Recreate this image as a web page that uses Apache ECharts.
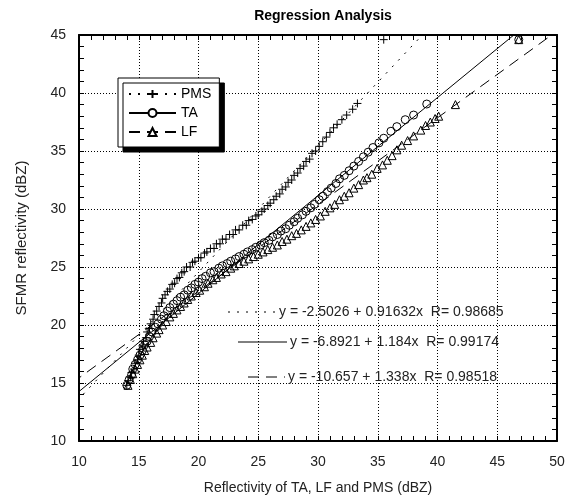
<!DOCTYPE html>
<html><head><meta charset="utf-8">
<script src="https://cdn.jsdelivr.net/npm/echarts@6/dist/echarts.min.js"></script>
<style>html,body{margin:0;padding:0;background:#fff}#c{width:570px;height:498px}</style>
</head><body><div id="c"></div><script>
// ---- data (x = reflectivity of TA/LF/PMS, y = SFMR reflectivity), dBZ ----
const pmsX = [14.0,14.1,14.3,14.4,14.6,14.7,14.9,15.0,15.1,15.3,15.4,15.6,15.7,15.9,16.0,16.2,16.3,16.5,16.7,16.9,17.0,17.2,17.4,17.6,17.8,18.0,18.2,18.4,18.6,18.8,19.0,19.3,19.5,19.7,20.0,20.2,20.5,20.7,21.0,21.3,21.5,21.8,22.0,22.3,22.6,22.9,23.1,23.4,23.7,24.0,24.2,24.5,24.8,25.0,25.3,25.5,25.8,26.0,26.3,26.5,26.8,27.0,27.3,27.5,27.8,28.0,28.3,28.5,28.8,29.0,29.3,29.5,29.8,30.1,30.4,30.7,31.0,31.3,31.6,32.0,32.4,32.9,33.3,35.5];
const pmsY = [14.8,15.2,15.5,15.9,16.2,16.7,17.0,17.4,17.9,18.2,18.6,18.9,19.4,19.7,20.1,20.5,20.9,21.2,21.6,21.9,22.3,22.6,22.9,23.1,23.5,23.6,24.0,24.1,24.5,24.6,25.0,25.0,25.4,25.5,25.8,25.8,26.2,26.3,26.6,26.6,27.0,27.0,27.4,27.4,27.8,27.8,28.2,28.2,28.6,28.6,29.0,29.1,29.4,29.5,29.8,30.0,30.3,30.5,30.8,31.1,31.3,31.7,31.9,32.3,32.5,32.9,33.1,33.5,33.7,34.1,34.3,34.8,35.0,35.4,35.8,36.2,36.6,37.0,37.3,37.7,38.1,38.6,39.1,44.6];
const taX = [14.0,14.2,14.4,14.5,14.7,14.9,15.1,15.3,15.5,15.7,15.9,16.1,16.4,16.6,16.9,17.1,17.4,17.6,17.9,18.2,18.5,18.8,19.1,19.4,19.7,20.0,20.3,20.6,21.0,21.3,21.7,22.0,22.4,22.7,23.1,23.4,23.8,24.1,24.5,24.8,25.2,25.5,25.9,26.2,26.6,26.9,27.3,27.6,28.0,28.3,28.7,29.0,29.4,29.7,30.1,30.4,30.8,31.1,31.5,31.8,32.2,32.6,33.0,33.4,33.8,34.2,34.6,35.1,35.5,36.1,36.6,37.3,38.0,39.1,46.8];
const taY = [14.8,15.3,15.7,16.2,16.6,17.0,17.4,17.8,18.3,18.6,19.0,19.4,19.8,20.1,20.5,20.8,21.2,21.5,21.8,22.1,22.4,22.6,23.0,23.2,23.5,23.7,24.0,24.2,24.5,24.6,24.9,25.1,25.3,25.5,25.7,25.9,26.1,26.3,26.5,26.7,26.9,27.1,27.3,27.6,27.8,28.1,28.3,28.6,28.9,29.2,29.5,29.8,30.1,30.4,30.8,31.1,31.5,31.8,32.2,32.6,32.9,33.3,33.7,34.1,34.5,34.9,35.3,35.7,36.1,36.7,37.1,37.7,38.1,39.05,44.6];
const lfX = [14.1,14.3,14.5,14.7,14.9,15.1,15.3,15.5,15.7,16.0,16.2,16.5,16.7,17.0,17.3,17.6,17.9,18.2,18.5,18.8,19.1,19.4,19.8,20.1,20.5,20.8,21.2,21.5,21.9,22.3,22.7,23.0,23.4,23.8,24.2,24.6,25.0,25.4,25.8,26.2,26.6,27.0,27.4,27.8,28.2,28.6,29.0,29.4,29.8,30.2,30.6,31.0,31.4,31.8,32.2,32.6,33.0,33.4,33.8,34.1,34.5,34.95,35.4,35.8,36.2,36.6,37.0,37.5,38.0,38.6,39.0,39.4,39.8,40.1,41.5,46.8];
const lfY = [14.8,15.3,15.8,16.2,16.6,17.0,17.4,17.8,18.1,18.5,18.9,19.3,19.6,20.0,20.3,20.7,21.0,21.3,21.6,21.9,22.2,22.5,22.8,23.0,23.3,23.6,23.9,24.1,24.4,24.6,24.9,25.1,25.3,25.5,25.7,25.9,26.1,26.3,26.5,26.7,26.9,27.2,27.4,27.7,27.9,28.2,28.5,28.8,29.1,29.4,29.8,30.1,30.4,30.8,31.1,31.4,31.8,32.1,32.5,32.7,33.0,33.5,33.8,34.2,34.6,35.1,35.5,35.9,36.3,36.8,37.2,37.5,37.8,38.0,39.0,44.6];

// regression of reflectivity on SFMR: X = a + b*SFMR
const regNames = ['PMS', 'TA', 'LF'];
const regIntercept = [-2.5026, -6.8921, -10.657];
const regSlope = [0.91632, 1.184, 1.338];
const regR = [0.98685, 0.99174, 0.98518];
const sfmrSpan = [5, 50];

const xTickLabels = [10, 15, 20, 25, 30, 35, 40, 45, 50];
const yTickLabels = [10, 15, 20, 25, 30, 35, 40, 45];

// ---- chart ----
const FONT = 'Liberation Sans, Arial, sans-serif';
const plusPath = 'path://M5,0L5,10M0,5L10,5';
const symbols = [plusPath, 'circle', 'triangle'];
const lineTypes = [[2, 7], 'solid', [11, 7]];
const xs = [pmsX, taX, lfX], ys = [pmsY, taY, lfY];

const chart = echarts.init(document.getElementById('c'), null, {renderer: 'canvas'});

const baseAxis = {
  type: 'value',
  axisLine: {show: true, onZero: false, lineStyle: {color: '#000', width: 2}},
  axisTick: {show: true, inside: true, length: 5, lineStyle: {color: '#000', width: 1}},
  minorTick: {show: true, splitNumber: 5, length: 5, lineStyle: {color: '#000', width: 1}},
  axisLabel: {show: false},
  splitLine: {show: false}
};
function mkX(pos, main) {
  return Object.assign({}, baseAxis, {
    min: xTickLabels[0], max: xTickLabels[xTickLabels.length - 1], interval: 5, position: pos,
    axisLabel: main ? {show: true, color: '#222', fontFamily: FONT, fontSize: 14, margin: 14} : {show: false},
    splitLine: main ? {show: true, lineStyle: {color: '#000', type: [1, 2], width: 1}} : {show: false},
    name: main ? 'Reflectivity of TA, LF and PMS (dBZ)' : '',
    nameLocation: 'middle', nameGap: 40,
    nameTextStyle: {fontFamily: FONT, fontSize: 14, color: '#222'}
  });
}
function mkY(pos, main) {
  return Object.assign({}, baseAxis, {
    min: yTickLabels[0], max: yTickLabels[yTickLabels.length - 1], interval: 5, position: pos,
    axisLabel: main ? {show: true, color: '#222', fontFamily: FONT, fontSize: 14, margin: 13} : {show: false},
    splitLine: main ? {show: true, lineStyle: {color: '#000', type: [1, 2], width: 1}} : {show: false},
    name: main ? 'SFMR reflectivity (dBZ)' : '',
    nameLocation: 'middle', nameGap: 50, nameRotate: 90,
    nameTextStyle: {fontFamily: FONT, fontSize: 15, color: '#222'}
  });
}

const series = [];
regNames.forEach((n, i) => {
  series.push({
    name: n, type: 'line', xAxisIndex: 0, yAxisIndex: 0,
    data: sfmrSpan.map(s => [regIntercept[i] + regSlope[i] * s, s]),
    showSymbol: false, symbol: symbols[i], symbolSize: 8,
    lineStyle: {color: '#000', width: 1, type: lineTypes[i]},
    itemStyle: {color: '#fff', borderColor: '#000', borderWidth: 1},
    clip: true, silent: true, z: 2, animation: false
  });
});
regNames.forEach((n, i) => {
  series.push({
    name: n, type: 'scatter', xAxisIndex: 0, yAxisIndex: 0,
    data: xs[i].map((x, k) => [x, ys[i][k]]),
    symbol: symbols[i], symbolSize: 8,
    itemStyle: {color: 'rgba(0,0,0,0)', borderColor: '#000', borderWidth: 1, opacity: 1},
    silent: true, z: 3, animation: false
  });
});

// annotation rows (equations)
const eqTop = [312, 342, 377];
const eqTextX = [279, 290, 288];
const eqLine = [[228, 276], [238, 287], [248, 285]];
const graphics = [];
regNames.forEach((n, i) => {
  const a = regIntercept[i], b = regSlope[i];
  graphics.push({
    type: 'line', shape: {x1: eqLine[i][0], y1: eqTop[i], x2: eqLine[i][1], y2: eqTop[i]},
    style: {stroke: '#000', lineWidth: 1, lineDash: lineTypes[i] === 'solid' ? null : lineTypes[i]}, z: 10
  });
  graphics.push({
    type: 'text', x: eqTextX[i], y: eqTop[i],
    style: {text: 'y = ' + a + ' + ' + b + 'x  R= ' + regR[i], font: '14px ' + FONT, fill: '#222', verticalAlign: 'middle', textAlign: 'left'}, z: 10
  });
});

chart.setOption({
  animation: false,
  backgroundColor: '#fff',
  title: {text: 'Regression Analysis', left: 318, textAlign: 'center', top: 4, textStyle: {fontFamily: FONT, fontSize: 14, fontWeight: 'bold', color: '#000'}},
  grid: {left: 79, right: 13, top: 35, bottom: 57, containLabel: false, outerBoundsMode: 'none'},
  xAxis: [mkX('bottom', true), mkX('top', false)],
  yAxis: [mkY('left', true), mkY('right', false)],
  legend: {
    data: regNames, orient: 'vertical', left: 118, top: 78,
    itemWidth: 47, itemHeight: 10, itemGap: 5,
    padding: [9, 8, 8, 10],
    backgroundColor: '#fff', borderColor: '#000', borderWidth: 1,
    shadowColor: '#000', shadowOffsetX: 5, shadowOffsetY: 5, shadowBlur: 0,
    textStyle: {fontFamily: FONT, fontSize: 14, color: '#000'},
    selectedMode: false
  },
  series: series,
  graphic: graphics
});
</script></body></html>
